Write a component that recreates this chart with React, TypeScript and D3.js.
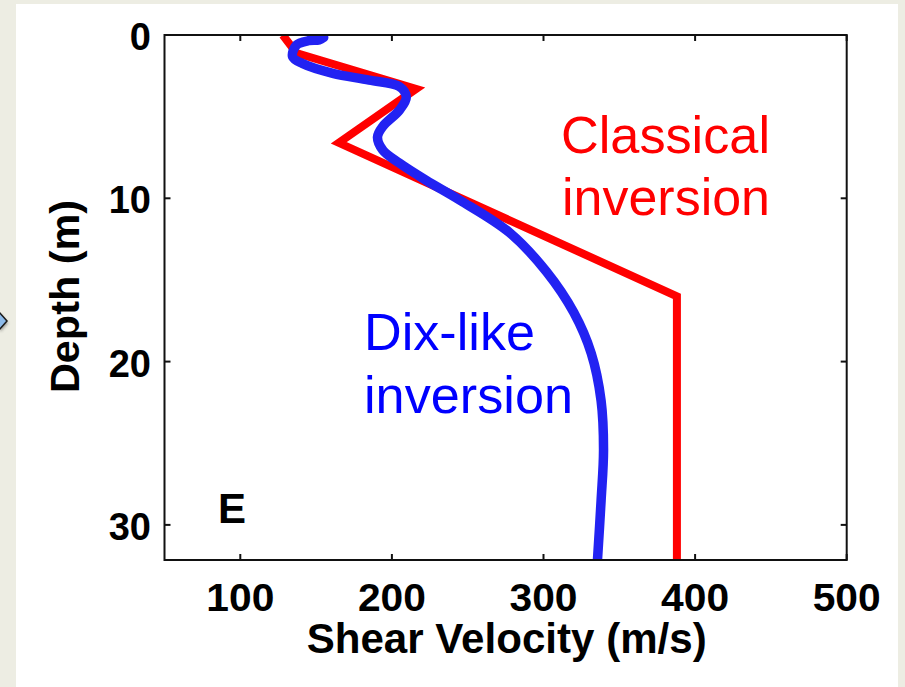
import React from "react";
import * as d3 from "d3";

// Classical inversion: [velocity m/s, depth m]
const classicalVel = [128, 137, 216, 165, 388, 388];
const classicalDepth = [0, 1.1, 3.3, 6.6, 16.0, 32.2];

// Dix-like inversion
const dixVel = [155, 152, 145, 137, 134.5, 141, 161, 185, 205, 209.5, 205, 194, 190.5, 194, 205, 222.6, 244.6, 277.6, 302, 320, 331.5, 338, 339.6, 338, 335.5];
const dixDepth = [0.15, 0.3, 0.35, 0.62, 1.33, 1.75, 2.35, 2.76, 3.16, 3.8, 4.6, 5.6, 6.25, 7.05, 7.85, 8.9, 10.1, 12.1, 14.5, 17.0, 19.5, 22.4, 25.4, 28.5, 32.3];

const xTicks = [100, 200, 300, 400, 500];
const yTicks = [0, 10, 20, 30];

const W = 905;
const H = 687;
const L = 164.5, R = 846.7, T = 35, B = 560;

export default function App() {
  const x = d3.scaleLinear().domain([50, 500]).range([L, R]);
  const y = d3.scaleLinear().domain([0, 32.15]).range([T, B]);

  const classical: [number, number][] = classicalVel.map((v, i) => [v, classicalDepth[i]]);
  const dix: [number, number][] = dixVel.map((v, i) => [v, dixDepth[i]]);

  const redLine = d3.line<[number, number]>().x(d => x(d[0])).y(d => y(d[1]))(classical) || "";
  const blueLine = d3
    .line<[number, number]>()
    .x(d => x(d[0]))
    .y(d => y(d[1]))
    .curve(d3.curveCatmullRom.alpha(0.5))(dix) || "";

  const font = "'Liberation Sans', Arial, Helvetica, sans-serif";
  const tick = 6;

  return (
    <svg width={W} height={H} style={{ position: "absolute", left: 0, top: 0 }} fontFamily={font}>
      <defs>
        <clipPath id="plotclip">
          <rect x={L} y={T} width={R - L} height={B - T} />
        </clipPath>
        <filter id="shadow" x="-50%" y="-50%" width="200%" height="200%">
          <feGaussianBlur stdDeviation="1.5" />
        </filter>
      </defs>
      <rect x={0} y={0} width={W} height={H} fill="#EDEDE3" />
      <rect x={16} y={4} width={882} height={H - 4} fill="#FFFFFF" />
      {/* small slide arrow at left */}
      <polygon points="0,314 8,323 0,332" fill="#555" filter="url(#shadow)" opacity={0.6} />
      <polygon points="-1,312 7,321 -1,330" fill="#8DBBEA" stroke="#1a1a1a" strokeWidth={1.5} />

      {/* data lines */}
      <g clipPath="url(#plotclip)">
        <path d={redLine} fill="none" stroke="#FF0000" strokeWidth={8} strokeLinejoin="miter" />
        <path d={blueLine} fill="none" stroke="#2222F2" strokeWidth={9.5} strokeLinejoin="round" strokeLinecap="round" />
      </g>

      {/* frame */}
      <rect x={L} y={T} width={R - L} height={B - T} fill="none" stroke="#111" strokeWidth={2} />

      {/* x ticks */}
      {xTicks.map(t => (
        <g key={"xt" + t}>
          <line x1={x(t)} x2={x(t)} y1={B} y2={B - tick} stroke="#111" strokeWidth={2} />
          <line x1={x(t)} x2={x(t)} y1={T} y2={T + tick} stroke="#111" strokeWidth={2} />
          <text x={x(t)} y={611} textAnchor="middle" fontSize={38} fontWeight="bold" fill="#000"
            textLength={68} lengthAdjust="spacingAndGlyphs">
            {t}
          </text>
        </g>
      ))}

      {/* y ticks */}
      {yTicks.map(t => (
        <g key={"yt" + t}>
          <line x1={L} x2={L + tick} y1={y(t)} y2={y(t)} stroke="#111" strokeWidth={2} />
          <line x1={R} x2={R - tick} y1={y(t)} y2={y(t)} stroke="#111" strokeWidth={2} />
          <text x={151} y={y(t) + 15} textAnchor="end" fontSize={38} fontWeight="bold" fill="#000">
            {t}
          </text>
        </g>
      ))}

      {/* axis labels */}
      <text x={506.7} y={653} textAnchor="middle" fontSize={42} fontWeight="bold" fill="#000"
        textLength={400} lengthAdjust="spacingAndGlyphs">
        Shear Velocity (m/s)
      </text>
      <text
        transform="translate(79,296.5) rotate(-90)"
        textAnchor="middle"
        fontSize={41}
        fontWeight="bold"
        fill="#000"
        textLength={193}
        lengthAdjust="spacingAndGlyphs"
      >
        Depth (m)
      </text>

      <text x={218} y={523} fontSize={42} fontWeight="bold" fill="#000">E</text>

      {/* annotations */}
      <text x={561} y={153} fontSize={52} fill="#FF0000" textLength={209} lengthAdjust="spacingAndGlyphs">Classical</text>
      <text x={562} y={215} fontSize={52} fill="#FF0000" textLength={208} lengthAdjust="spacingAndGlyphs">inversion</text>
      <text x={364} y={350} fontSize={52} fill="#0000FF" textLength={171} lengthAdjust="spacingAndGlyphs">Dix-like</text>
      <text x={364} y={413} fontSize={52} fill="#0000FF" textLength={209} lengthAdjust="spacingAndGlyphs">inversion</text>
    </svg>
  );
}
